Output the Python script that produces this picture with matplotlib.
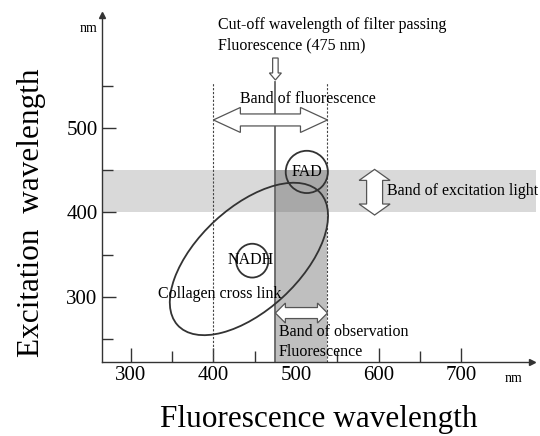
import numpy as np
import matplotlib
matplotlib.use("Agg")
import matplotlib.pyplot as plt
import matplotlib.patches as mpatches
import matplotlib.transforms as mtransforms

plt.rcParams['font.family'] = ['Liberation Serif', 'DejaVu Serif']

# axis ticks (nm)
x_major = [300, 400, 500, 600, 700]
x_minor = [350, 450, 550, 650]
y_major = [300, 400, 500]
y_minor = [250, 350, 450, 550]

# bands (nm)
excitation_band = (400, 450)
fluor_band = (400, 538)
cutoff = 475
observation_band = (475, 538)

# fluorophores: (label, center x, center y, width, height, angle)
collagen = ("Collagen cross link", 443, 345, 233, 122, 42)
nadh = ("NADH", 447, 343, 39, 40, 0)
fad = ("FAD", 513, 448, 51, 50, 0)

EDGE = "#333333"

fig = plt.figure(figsize=(5.4, 4.36), dpi=100)
ax = fig.add_axes([0.1883, 0.169, 0.7963, 0.7966])
ax.set_xlim(264.9, 785)
ax.set_ylim(222.7, 633.7)

for s in ['top', 'right']:
    ax.spines[s].set_visible(False)
for s in ['left', 'bottom']:
    ax.spines[s].set_color(EDGE)
    ax.spines[s].set_linewidth(1.0)
    ax.spines[s].set_zorder(5)
ax.plot(1, 0, '>', color=EDGE, ms=4, transform=ax.transAxes, clip_on=False, zorder=6)
ax.plot(0, 1, '^', color=EDGE, ms=4, transform=ax.transAxes, clip_on=False, zorder=6)

ax.set_xticks(x_major)
ax.set_xticks(x_minor, minor=True)
ax.set_yticks(y_major)
ax.set_yticks(y_minor, minor=True)
ax.tick_params(which='both', direction='in', color=EDGE, width=1.0, labelsize=15, pad=3)
ax.tick_params(which='major', length=10)
ax.tick_params(which='minor', length=8)

# excitation light band
ax.axhspan(excitation_band[0], excitation_band[1], xmin=0, xmax=1.01,
           color='#d9d9d9', lw=0, zorder=1, clip_on=False)
# observed fluorescence column (below and inside band)
ylo = ax.get_ylim()[0]
ax.add_patch(mpatches.Rectangle((observation_band[0], ylo),
                                observation_band[1] - observation_band[0],
                                excitation_band[0] - ylo,
                                facecolor='#bfbfbf', lw=0, zorder=3))
ax.add_patch(mpatches.Rectangle((observation_band[0], excitation_band[0]),
                                observation_band[1] - observation_band[0],
                                excitation_band[1] - excitation_band[0],
                                facecolor='#a8a8a8', lw=0, zorder=3))

# vertical guide lines
line_top = 554
for xv in fluor_band:
    ax.plot([xv, xv], [ylo, line_top], color='#444444', lw=0.8,
            ls=(0, (2, 1.5)), zorder=3.5)
ax.plot([cutoff, cutoff], [ylo, line_top], color='#666666', lw=1.3, zorder=3.5)

# fluorophore ellipses
for lab, cx, cy, w, h, ang in [collagen, nadh, fad]:
    ax.add_patch(mpatches.Ellipse((cx, cy), w, h, angle=ang, fill=False,
                                  edgecolor=EDGE, lw=1.3, zorder=4))

tsize = 11.5
ax.text(fad[1], fad[2], fad[0], ha='center', va='center', fontsize=tsize, zorder=6)
ax.text(445, 344, nadh[0], ha='center', va='center', fontsize=tsize, zorder=6)
ax.text(408, 303, collagen[0], ha='center', va='center', fontsize=tsize, zorder=6)


def block_arrow(p0, p1, shaft, head_w, head_l, double=True):
    # hollow block arrow, sizes in pixels
    a = ax.transData.transform(p0)
    b = ax.transData.transform(p1)
    u = (b - a) / np.hypot(*(b - a))
    n = np.array([-u[1], u[0]])
    sw, hw = shaft / 2, head_w / 2
    if double:
        pts = [a, a + u * head_l + n * hw, a + u * head_l + n * sw,
               b - u * head_l + n * sw, b - u * head_l + n * hw, b,
               b - u * head_l - n * hw, b - u * head_l - n * sw,
               a + u * head_l - n * sw, a + u * head_l - n * hw]
    else:
        pts = [a + n * sw, b - u * head_l + n * sw, b - u * head_l + n * hw, b,
               b - u * head_l - n * hw, b - u * head_l - n * sw, a - n * sw]
    poly = mpatches.Polygon(pts, closed=True, facecolor='white', edgecolor='#555555',
                            lw=0.9, transform=mtransforms.IdentityTransform(), zorder=5)
    fig.add_artist(poly)


block_arrow((cutoff, 582.8), (cutoff, 556.8), 5.5, 12, 7, double=False)
block_arrow((fluor_band[0], 509.5), (fluor_band[1], 509.5), 12, 25, 27)
block_arrow((595, 397), (595, 451), 16, 31, 11)
block_arrow((observation_band[0], 281), (observation_band[1], 281), 11, 20, 10)

ax.text(514.7, 529.6, "Band of fluorescence", ha='center', va='baseline', fontsize=tsize, zorder=6)
ax.text(610, 425, "Band of excitation light", ha='left', va='center', fontsize=tsize, zorder=6)
ax.text(479, 253.8, "Band of observation", ha='left', va='baseline', fontsize=tsize, zorder=6)
ax.text(479, 230.2, "Fluorescence", ha='left', va='baseline', fontsize=tsize, zorder=6)
ax.text(405.5, 617.2, "Cut-off wavelength of filter passing", ha='left', va='baseline',
        fontsize=tsize, zorder=6, clip_on=False)
ax.text(405.5, 593.5, "Fluorescence (475 nm)", ha='left', va='baseline',
        fontsize=tsize, zorder=6, clip_on=False)

fig.text(89 / 540, 1 - 28 / 436, "nm", ha='center', va='center', fontsize=10)
fig.text(514 / 540, 1 - 378 / 436, "nm", ha='center', va='center', fontsize=10)

fig.text(319 / 540, 1 - 427 / 436, "Fluorescence wavelength", ha='center', va='baseline', fontsize=22.5)
fig.text(32 / 540, 1 - 213 / 436, "Excitation  wavelength", ha='center', va='center',
         rotation=90, fontsize=22.5)

fig.savefig("out.png", dpi=100)
